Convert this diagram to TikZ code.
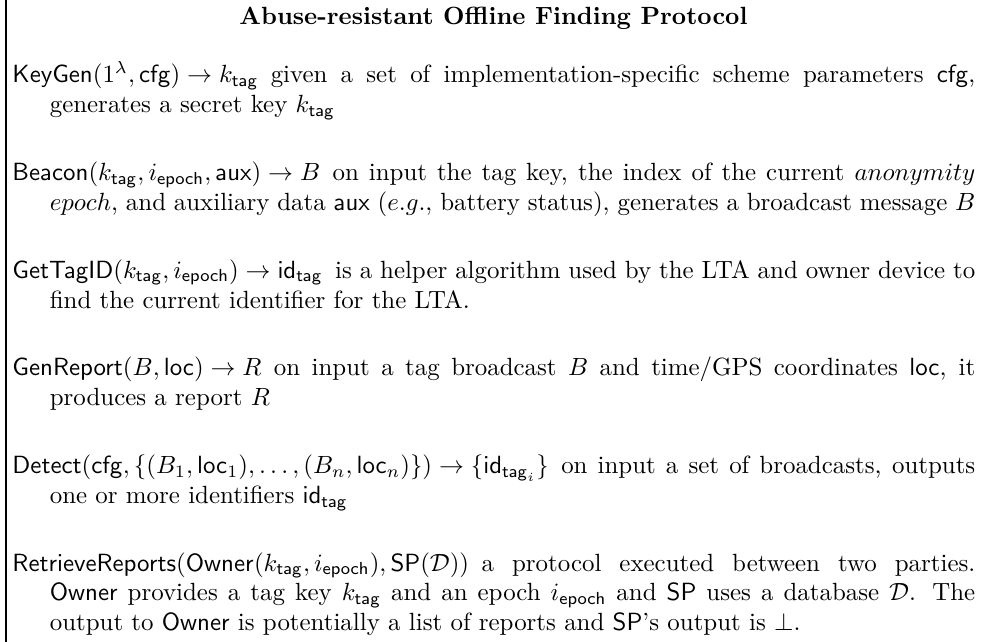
\documentclass[tikz,border=0pt]{standalone}
\usepackage{amsmath,amssymb}
\newcommand{\itemtext}[2]{\parbox[t]{386.7pt}{\hyphenpenalty=10000\relax\parshape 2 0pt 386.7pt 15pt 371.7pt\relax\noindent\mbox{#1}\hskip5pt\relax #2}}
\begin{document}
\begin{tikzpicture}[
  itembox/.style={anchor=base west, inner sep=0pt, font=\normalsize},
  ttlbox/.style={anchor=base, inner sep=0pt, font=\bfseries},
  frameline/.style={line width=0.5pt}]
\useasboundingbox (0pt,0pt) rectangle (394.4pt,-257.8pt);
\coordinate (ftop) at (2.41pt,0pt);
\coordinate (fbot) at (2.41pt,-257.8pt);
\draw[frameline] (ftop) -- (fbot);
\node[ttlbox] (title) at (198.2pt,-9.64pt) {Abuse-resistant Offline Finding Protocol};
\node[itembox] (keygen) at (4.82pt,-33.33pt) {\itemtext{$\mathsf{KeyGen}(1^\lambda,\mathsf{cfg})\to k_{\mathsf{tag}}$}{given a set of implementation-specific scheme parameters $\mathsf{cfg}$, generates a secret key $k_{\mathsf{tag}}$}};
\node[itembox] (beacon) at (4.82pt,-72.53pt) {\itemtext{$\mathsf{Beacon}(k_{\mathsf{tag}},i_{\mathsf{epoch}},\mathsf{aux})\to B$}{on input the tag key, the index of the current $anonymity$ $epoch$, and auxiliary data $\mathsf{aux}$ ($e.g.,$ battery status), generates a broadcast message $B$}};
\node[itembox] (gettag) at (4.82pt,-111.73pt) {\itemtext{$\mathsf{GetTagID}(k_{\mathsf{tag}},i_{\mathsf{epoch}})\to\mathsf{id}_{\mathsf{tag}}$}{is a helper algorithm used by the LTA and owner device to find the current identifier for the LTA.}};
\node[itembox] (genrep) at (4.82pt,-150.93pt) {\itemtext{$\mathsf{GenReport}(B,\mathsf{loc})\to R$}{on input a tag broadcast $B$ and time/GPS coordinates $\mathsf{loc}$, it produces a report $R$}};
\node[itembox] (detect) at (4.82pt,-190.13pt) {\itemtext{$\mathsf{Detect}(\mathsf{cfg},\{(B_1,\mathsf{loc}_1),\ldots,(B_n,\mathsf{loc}_n)\})\to\{\mathsf{id}_{\mathsf{tag}_i}\}$}{on input a set of broadcasts, outputs one or more identifiers $\mathsf{id}_{\mathsf{tag}}$}};
\node[itembox] (retrieve) at (4.82pt,-229.33pt) {\itemtext{$\mathsf{RetrieveReports}(\mathsf{Owner}(k_{\mathsf{tag}},i_{\mathsf{epoch}}),\mathsf{SP}(\mathcal{D}))$}{a protocol executed between two parties. \textsf{Owner} provides a tag key $k_{\mathsf{tag}}$ and an epoch $i_{\mathsf{epoch}}$ and \textsf{SP} uses a database $\mathcal{D}$. The output to \textsf{Owner} is potentially a list of reports and \textsf{SP}'s output is $\perp$.}};
\end{tikzpicture}
\end{document}
